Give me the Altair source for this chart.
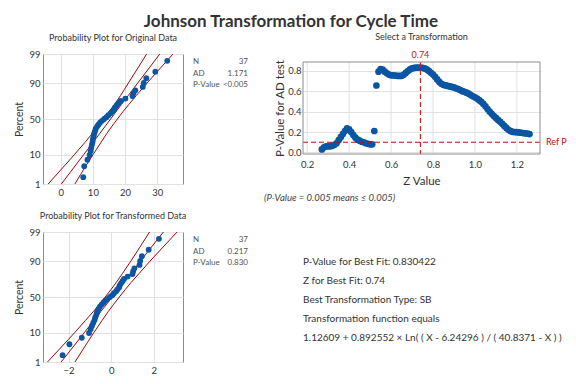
import altair as alt
import pandas as pd
from statistics import NormalDist

ND = NormalDist()
FONT = "Lato"
BLUE = "#0B55A3"
RED = "#990A0A"
FRAME = "#8C8C8C"
GRID = "#E2E2E2"

# ---------------- data ----------------
chart_title = "Johnson Transformation for Cycle Time"
orig_title = "Probability Plot for Original Data"
trans_title = "Probability Plot for Transformed Data"
z_title = "Select a Transformation"

orig_values = [7.0, 7.3, 8.3, 9.0, 9.3, 9.5, 9.7, 9.9, 10.0, 10.2, 10.3, 10.5, 10.7,
               10.9, 11.3, 11.7, 12.2, 12.8, 13.5, 14.2, 14.8, 15.5, 16.0, 16.6, 16.9,
               17.4, 18.0, 18.6, 20.1, 22.3, 22.6, 23.2, 25.5, 25.8, 26.6, 29.4, 33.1]
trans_values = [-2.28, -1.96, -1.38, -1.04, -0.96, -0.90, -0.84, -0.78, -0.75, -0.70,
                -0.67, -0.63, -0.58, -0.53, -0.45, -0.37, -0.28, -0.17, -0.06, 0.05,
                0.13, 0.23, 0.29, 0.37, 0.40, 0.46, 0.53, 0.60, 0.77, 1.00, 1.03, 1.09,
                1.33, 1.36, 1.44, 1.76, 2.24]

band_pcts = [1, 5, 10, 20, 30, 50, 70, 80, 90, 95, 99]
orig_fit = [0.2, 4.7, 7.1, 10.0, 12.1, 15.5, 18.9, 21.0, 23.9, 26.3, 30.8]
orig_lower = [-3.9, 1.4, 4.2, 7.5, 9.8, 13.4, 16.7, 18.6, 21.0, 23.0, 26.7]
orig_upper = [4.4, 8.0, 10.0, 12.5, 14.3, 17.6, 21.2, 23.5, 26.8, 29.6, 34.9]
trans_fit = [-2.35, -1.64, -1.27, -0.82, -0.49, 0.05, 0.59, 0.92, 1.37, 1.74, 2.45]
trans_lower = [-2.99, -2.16, -1.72, -1.21, -0.84, -0.28, 0.24, 0.53, 0.92, 1.23, 1.80]
trans_upper = [-1.70, -1.13, -0.82, -0.43, -0.14, 0.38, 0.94, 1.31, 1.82, 2.26, 3.09]

pct_ticks = [1, 10, 50, 90, 99]
orig_xticks = [0, 10, 20, 30]
trans_xticks = [-2, 0, 2]

stat_labels = ["N", "AD", "P-Value"]
orig_stats = ["37", "1.171", "<0.005"]
trans_stats = ["37", "0.217", "0.830"]

z_values = [round(0.27 + 0.01 * i, 2) for i in range(100)]
p_values = [0.03, 0.05, 0.06, 0.06, 0.06, 0.065, 0.075, 0.09, 0.12, 0.15,
            0.18, 0.21, 0.235, 0.225, 0.20, 0.17, 0.145, 0.125, 0.115, 0.105,
            0.10, 0.09, 0.085, 0.08, 0.08, 0.21, 0.655, 0.79, 0.815, 0.81,
            0.79, 0.775, 0.762, 0.755, 0.755, 0.752, 0.75, 0.749, 0.75, 0.76,
            0.778, 0.797, 0.812, 0.822, 0.827, 0.829, 0.830, 0.8304, 0.828, 0.822,
            0.812, 0.798, 0.78, 0.762, 0.74, 0.715, 0.69, 0.672, 0.662, 0.656,
            0.651, 0.646, 0.641, 0.636, 0.628, 0.62, 0.61, 0.60, 0.593, 0.585,
            0.575, 0.562, 0.55, 0.54, 0.528, 0.512, 0.495, 0.475, 0.452, 0.425,
            0.40, 0.378, 0.356, 0.338, 0.318, 0.30, 0.28, 0.26, 0.24, 0.222,
            0.208, 0.202, 0.20, 0.198, 0.196, 0.193, 0.19, 0.187, 0.185, 0.18]
z_ticks = [0.2, 0.4, 0.6, 0.8, 1.0, 1.2]
p_ticks = [0.0, 0.2, 0.4, 0.6, 0.8]
best_z = [0.74]
ref_p = [0.1]
note_text = "(P-Value = 0.005 means \u2264 0.005)"
best_lines = ["P-Value for Best Fit: 0.830422",
              "Z for Best Fit: 0.74",
              "Best Transformation Type: SB",
              "Transformation function equals",
              "1.12609 + 0.892552 \u00d7 Ln( ( X - 6.24296 ) / ( 40.8371 - X ) )"]

PW, PH = 140, 130          # probability plot size
ZW, ZH, ZTOP = 237, 100, 8  # Z plot: group size and frame top inside the group


def axis_cfg(**kw):
    base = dict(grid=True, gridColor=GRID, gridWidth=1, domain=False, ticks=False,
                labelColor="#333333", labelFontSize=9.5,
                labelFont=FONT, titleFont=FONT, titleColor="#333333",
                titleFontWeight="normal", titleFontSize=10.5, labelPadding=3)
    base.update(kw)
    return alt.Axis(**base)


def sub_title(text, offset):
    return alt.TitleParams(text, font=FONT, fontSize=9, fontWeight="normal",
                           color="#333333", anchor="middle", offset=offset)


def prob_plot(values, fit, lower, upper, xdom, xticks, title, stat_vals):
    n = len(values)
    pts = pd.DataFrame({"x": sorted(values),
                        "z": [ND.inv_cdf((i + 0.7) / (n + 0.4)) for i in range(n)]})
    band = pd.DataFrame({"z": [ND.inv_cdf(p / 100) for p in band_pcts],
                         "fit": fit, "lower": lower, "upper": upper})
    ydom = [ND.inv_cdf(0.01), ND.inv_cdf(0.99)]
    yticks = [ND.inv_cdf(p / 100) for p in pct_ticks]
    expr = ("datum.value < -2 ? '1' : datum.value < -1 ? '10' : datum.value < 1 ? '50'"
            " : datum.value < 2 ? '90' : '99'")
    xs = alt.Scale(domain=xdom, nice=False, zero=False)
    ys = alt.Scale(domain=ydom, nice=False, zero=False)
    xax = axis_cfg(values=xticks, title=None)
    yax = axis_cfg(values=yticks, labelExpr=expr, title="Percent", titlePadding=4)
    layers = []
    for col in ["lower", "fit", "upper"]:
        layers.append(alt.Chart(band).mark_line(color=RED, strokeWidth=1,
                                                interpolate="monotone", clip=True).encode(
            x=alt.X(f"{col}:Q", scale=xs, axis=xax),
            y=alt.Y("z:Q", scale=ys, axis=yax),
            order="z:Q"))
    layers.append(alt.Chart(pts).mark_circle(size=34, color=BLUE, opacity=1).encode(
        x=alt.X("x:Q", scale=xs, axis=xax),
        y=alt.Y("z:Q", scale=ys, axis=yax)))
    for i, (lab, val) in enumerate(zip(stat_labels, stat_vals)):
        df = pd.DataFrame({"lab": [lab], "val": [val]})
        yy = 8 + 11.7 * i
        layers.append(alt.Chart(df).mark_text(align="left", baseline="middle", font=FONT,
                                              fontSize=8, color="#555555").encode(
            x=alt.value(150), y=alt.value(yy), text="lab:N"))
        layers.append(alt.Chart(df).mark_text(align="right", baseline="middle", font=FONT,
                                              fontSize=8, color="#555555").encode(
            x=alt.value(205), y=alt.value(yy), text="val:N"))
    return alt.layer(*layers).properties(
        width=PW, height=PH, title=sub_title(title, 6),
        view=alt.ViewBackground(stroke=FRAME, strokeWidth=1))


prob1 = prob_plot(orig_values, orig_fit, orig_lower, orig_upper, [-5.5, 38],
                  orig_xticks, orig_title, orig_stats)
prob2 = prob_plot(trans_values, trans_fit, trans_lower, trans_upper, [-3.2, 3.37],
                  trans_xticks, trans_title, trans_stats)

# ---------------- Z plot ----------------
zdf = pd.DataFrame({"z": z_values, "p": p_values})
zx = alt.Scale(domain=[0.18, 1.31], nice=False, zero=False)
zy = alt.Scale(domain=[-0.015, 0.885], nice=False, zero=False, range=[ZH, ZTOP])
zxa = axis_cfg(values=z_ticks, format=".1f", title="Z Value", titleFontSize=11.5,
               titlePadding=7, labelPadding=5, grid=False)
zya = axis_cfg(values=p_ticks, format=".1f", title="P-Value for AD test",
               titleFontSize=11.5, titlePadding=2, labelPadding=2)

vgrid = alt.Chart(pd.DataFrame({"z": z_ticks})).mark_rule(
    color=GRID, strokeWidth=1).encode(
    x=alt.X("z:Q", scale=zx, axis=zxa), y=alt.value(ZTOP), y2=alt.value(ZH))
frame = alt.Chart(pd.DataFrame({"a": [0]})).mark_rect(
    fillOpacity=0, stroke=FRAME, strokeWidth=1).encode(
    x=alt.value(0), x2=alt.value(ZW), y=alt.value(ZTOP), y2=alt.value(ZH))
zpts = alt.Chart(zdf).mark_circle(size=45, color=BLUE, opacity=1).encode(
    x=alt.X("z:Q", scale=zx, axis=zxa), y=alt.Y("p:Q", scale=zy, axis=zya))
ref_line = alt.Chart(pd.DataFrame({"p": ref_p})).mark_rule(
    color="#B01515", strokeWidth=1.2, strokeDash=[5, 3]).encode(
    y=alt.Y("p:Q", scale=zy, axis=zya), x=alt.value(0), x2=alt.value(240))
ref_text = alt.Chart(pd.DataFrame({"p": ref_p, "t": ["Ref P"]})).mark_text(
    align="left", baseline="middle", font=FONT, fontSize=9, color="#B01515").encode(
    y=alt.Y("p:Q", scale=zy, axis=zya), x=alt.value(243), text="t:N")
best_line = alt.Chart(pd.DataFrame({"z": best_z})).mark_rule(
    color="#D81E1E", strokeWidth=1.2, strokeDash=[5, 3]).encode(
    x=alt.X("z:Q", scale=zx, axis=zxa), y=alt.value(ZTOP), y2=alt.value(ZH))
best_text = alt.Chart(pd.DataFrame({"z": best_z, "t": [f"{best_z[0]:.2f}"]})).mark_text(
    align="center", baseline="middle", font=FONT, fontSize=9, color="#C01818").encode(
    x=alt.X("z:Q", scale=zx, axis=zxa), y=alt.value(1), text="t:N")
note = alt.Chart(pd.DataFrame({"t": [note_text]})).mark_text(
    align="left", baseline="middle", font=FONT, fontSize=9.5, fontStyle="italic",
    color="#444444").encode(x=alt.value(-39), y=alt.value(144), text="t:N")
best_layers = []
for i, line in enumerate(best_lines):
    best_layers.append(alt.Chart(pd.DataFrame({"t": [line]})).mark_text(
        align="left", baseline="middle", font=FONT, fontSize=10, color="#333333").encode(
        x=alt.value(0), y=alt.value(208 + 19 * i), text="t:N"))

zplot = alt.layer(vgrid, zpts, ref_line, best_line, frame, ref_text, best_text, note,
                  *best_layers).properties(
    width=ZW, height=ZH, title=sub_title(z_title, 9))

chart = alt.concat(prob1, zplot, prob2, columns=2,
                   spacing={"row": 48, "column": 120}, bounds="flush").properties(
    title=alt.TitleParams(chart_title, font=FONT, fontSize=17, fontWeight="bold",
                          color="#333333", anchor="middle", offset=2)
).configure(
    padding={"left": 6, "top": 4, "right": 0, "bottom": 0}
).configure_view(stroke="transparent")

chart.save("out.html", embed_options={"renderer": "svg", "actions": False})
